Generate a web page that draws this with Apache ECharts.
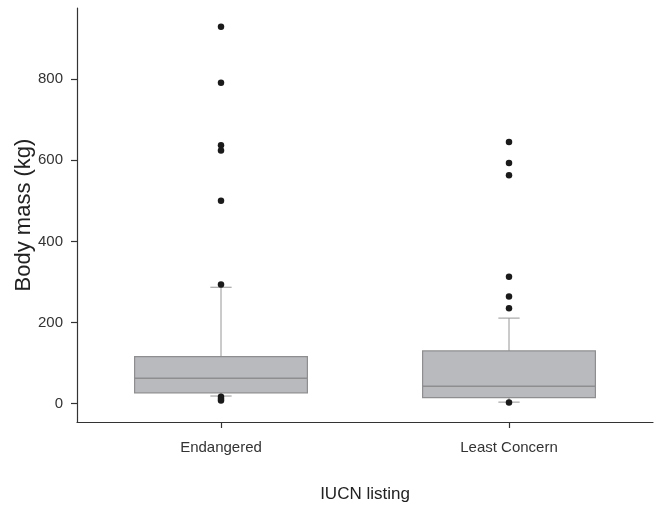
<!DOCTYPE html>
<html>
<head>
<meta charset="utf-8">
<script src="https://cdn.jsdelivr.net/npm/echarts@6/dist/echarts.min.js"></script>
<style>
  html, body { margin: 0; padding: 0; background: #fff; }
  #chart { width: 659px; height: 507px; }
</style>
</head>
<body>
<div id="chart"></div>
<script>
// IUCN listing groups
const categories = ['Endangered', 'Least Concern'];

// Box summaries per group: [lower whisker, Q1, median, Q3, upper whisker] (kg)
const endangeredBox = [19, 27, 63, 116, 287];
const leastConcernBox = [4, 15, 43, 130, 211];

// Points beyond the whiskers (kg)
const endangeredOutliers = [929, 791, 637, 624, 500, 294, 17, 12, 8];
const leastConcernOutliers = [645, 593, 563, 313, 264, 235, 3];

// Labelled ticks on the mass axis
const yTicks = [0, 200, 400, 600, 800];

const boxes = [endangeredBox, leastConcernBox];
const outliers = [endangeredOutliers, leastConcernOutliers];

const boxData = boxes.map((b, i) => [i, ...b]);
const outlierData = [];
outliers.forEach((list, i) => list.forEach(v => outlierData.push([i, v])));

const chart = echarts.init(document.getElementById('chart'));
const font = 'Liberation Sans, Arial, Helvetica, sans-serif';

function renderBox(params, api) {
  const x = api.value(0);
  const lo = api.coord([x, api.value(1)]);
  const q1 = api.coord([x, api.value(2)]);
  const med = api.coord([x, api.value(3)]);
  const q3 = api.coord([x, api.value(4)]);
  const hi = api.coord([x, api.value(5)]);
  const band = api.size([1, 0])[0];
  const half = band * 0.3;
  const cap = band * 0.037;
  const cx = lo[0];
  const whisker = { stroke: '#969696', lineWidth: 1 };
  return {
    type: 'group',
    children: [
      { type: 'line', shape: { x1: cx, y1: hi[1], x2: cx, y2: q3[1] }, style: whisker },
      { type: 'line', shape: { x1: cx, y1: q1[1], x2: cx, y2: lo[1] }, style: whisker },
      { type: 'line', shape: { x1: cx - cap, y1: hi[1], x2: cx + cap, y2: hi[1] }, style: whisker },
      { type: 'line', shape: { x1: cx - cap, y1: lo[1], x2: cx + cap, y2: lo[1] }, style: whisker },
      {
        type: 'rect',
        shape: { x: cx - half, y: q3[1], width: half * 2, height: q1[1] - q3[1] },
        style: { fill: '#b9babe', stroke: '#8e8e90', lineWidth: 1.2 }
      },
      { type: 'line', shape: { x1: cx - half, y1: med[1], x2: cx + half, y2: med[1] }, style: { stroke: '#8e8e90', lineWidth: 1.5 } }
    ]
  };
}

chart.setOption({
  animation: false,
  backgroundColor: '#fff',
  grid: { left: 77, right: 6, top: 8, bottom: 85, outerBoundsMode: 'none', containLabel: false },
  xAxis: {
    type: 'category',
    data: categories,
    boundaryGap: true,
    name: 'IUCN listing',
    nameLocation: 'middle',
    nameGap: 64,
    nameMoveOverlap: false,
    nameTextStyle: { fontFamily: font, fontSize: 17, color: '#222' },
    axisLine: { onZero: false, lineStyle: { color: '#333', width: 1.2 } },
    axisTick: { show: true, alignWithLabel: true, length: 6, lineStyle: { color: '#333', width: 1.2 } },
    axisLabel: { fontFamily: font, fontSize: 15, color: '#333', margin: 18 },
    splitLine: { show: false }
  },
  yAxis: {
    type: 'value',
    min: -45,
    max: 975,
    name: 'Body mass (kg)',
    nameLocation: 'middle',
    nameGap: 42,
    nameMoveOverlap: false,
    nameTextStyle: { fontFamily: font, fontSize: 22, color: '#222' },
    axisLine: { show: true, onZero: false, lineStyle: { color: '#333', width: 1.2 } },
    axisTick: { show: true, length: 6, customValues: yTicks, lineStyle: { color: '#333', width: 1.2 } },
    axisLabel: { fontFamily: font, fontSize: 15, color: '#333', margin: 14, customValues: yTicks },
    splitLine: { show: false }
  },
  series: [
    {
      type: 'custom',
      renderItem: renderBox,
      encode: { x: 0, y: [1, 2, 3, 4, 5] },
      data: boxData,
      z: 2
    },
    {
      type: 'scatter',
      data: outlierData,
      symbol: 'circle',
      symbolSize: 6.5,
      itemStyle: { color: '#1a1a1a', opacity: 1 },
      z: 3
    }
  ]
});
</script>
</body>
</html>
